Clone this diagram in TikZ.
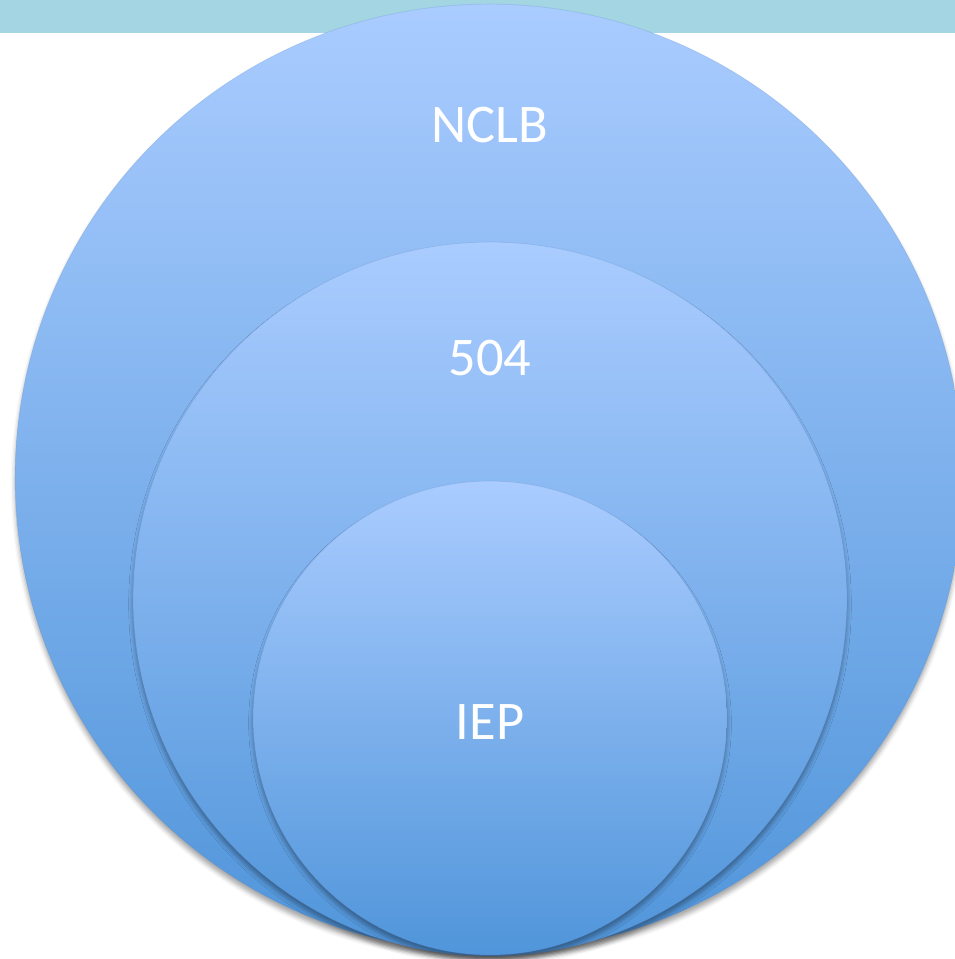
\documentclass[tikz,border=0pt]{standalone}
\usepackage{fontspec}
\setmainfont{Carlito}
\definecolor{bandteal}{RGB}{163,213,227}
\definecolor{cirtop}{RGB}{170,204,255}
\definecolor{cirbot}{RGB}{80,149,218}
\definecolor{ciredge}{RGB}{96,140,200}
\usetikzlibrary{shadows.blur}
\tikzset{
  ring/.style={circle,minimum size=#1,inner sep=0pt,
               top color=cirtop,bottom color=cirbot,
               draw=ciredge,draw opacity=0.25,line width=0.4pt,
               blur shadow={shadow xshift=0pt,shadow yshift=-3pt,
                            shadow blur radius=2.5pt,shadow opacity=35}},
  lbl/.style={anchor=base,inner sep=0pt,text=white,font=\fontsize{31}{36}\selectfont},
}

\begin{document}
\begin{tikzpicture}[x=0.02cm,y=-0.02cm]
    \clip (0,0) rectangle (955,959);
    % title band
    \fill[bandteal] (0,0) rectangle (955,33);
    % nested circles, outer to inner
    \node[ring=18.96cm] (nclb) at (489,478) {};
    \node[ring=14.28cm] (sec) at (490,599) {};
    \node[ring=9.48cm]  (iep) at (490,718) {};
    \node[lbl] (nclbtxt) at (490,143) {NCLB};
    \node[lbl] (sectxt)  at (490,375) {504};
    \node[lbl] (ieptxt)  at (490,739) {IEP};
\end{tikzpicture}
\end{document}
